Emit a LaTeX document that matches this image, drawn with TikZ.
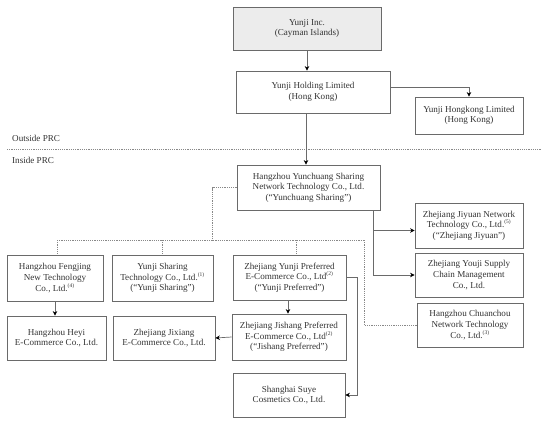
\documentclass[tikz,border=0pt]{standalone}
\usepackage{fontspec}
\setmainfont{Liberation Serif}
\usetikzlibrary{arrows.meta}
\definecolor{edge}{HTML}{6A6A6A}
\definecolor{dotc}{HTML}{888888}
\definecolor{txt}{HTML}{333333}
\begin{document}
\begin{tikzpicture}[x=1pt,y=-1pt,
  box/.style={draw=edge,line width=0.8pt,align=center,inner sep=0pt,text=txt,
    font=\fontsize{9.1}{10.6}\selectfont},
  conn/.style={draw=edge,line width=0.7pt},
  arr/.style={conn,-{Stealth[length=4.5pt,width=4.5pt,black]}},
  dot/.style={draw=dotc,line width=0.6pt,dash pattern=on 1.2pt off 1pt}]
\useasboundingbox (0,0) rectangle (549,426);
\newcommand{\supn}[1]{\textsuperscript{\fontsize{5.5}{5.5}\selectfont(#1)}}
% boxes
\node[box,fill=gray!15,minimum width=148pt,minimum height=43pt] (inc) at (307,28.5) {Yunji Inc.\\(Cayman Islands)};
\node[box,minimum width=154pt,minimum height=42pt] (holding) at (313,92) {Yunji Holding Limited\\(Hong Kong)};
\node[box,minimum width=108pt,minimum height=37pt] (hk) at (469,115.5) {Yunji Hongkong Limited\\(Hong Kong)};
\node[box,minimum width=143pt,minimum height=45pt] (yc) at (308.5,187.5) {Hangzhou Yunchuang Sharing\\Network Technology Co., Ltd.\\(“Yunchuang Sharing”)};
\node[box,minimum width=108pt,minimum height=45pt] (jiyuan) at (469,225.5) {Zhejiang Jiyuan Network\\Technology Co., Ltd.\supn{5}\\(“Zhejiang Jiyuan”)};
\node[box,minimum width=108pt,minimum height=44pt] (youji) at (469,275) {Zhejiang Youji Supply\\Chain Management\\Co., Ltd.};
\node[box,minimum width=106pt,minimum height=44pt] (chuan) at (470,325) {Hangzhou Chuanchou\\Network Technology\\Co., Ltd.\supn{3}};
\node[box,minimum width=96pt,minimum height=46pt] (feng) at (55,278) {Hangzhou Fengjing\\New Technology\\Co., Ltd.\supn{4}};
\node[box,minimum width=101pt,minimum height=46pt] (share) at (162.5,278) {Yunji Sharing\\Technology Co., Ltd.\supn{1}\\(“Yunji Sharing”)};
\node[box,minimum width=113pt,minimum height=45pt] (pref) at (289.5,277.5) {Zhejiang Yunji Preferred\\E-Commerce Co., Ltd\supn{2}\\(“Yunji Preferred”)};
\node[box,minimum width=99pt,minimum height=44pt] (heyi) at (56.5,338) {Hangzhou Heyi\\E-Commerce Co., Ltd.};
\node[box,minimum width=102pt,minimum height=44pt] (jix) at (164,338) {Zhejiang Jixiang\\E-Commerce Co., Ltd.};
\node[box,minimum width=114pt,minimum height=46pt] (jish) at (289,337) {Zhejiang Jishang Preferred\\E-Commerce Co., Ltd\supn{2}\\(“Jishang Preferred”)};
\node[box,minimum width=112pt,minimum height=44pt] (suye) at (289,395) {Shanghai Suye\\Cosmetics Co., Ltd.};
% boundary
\coordinate (bl) at (7,149);
\coordinate (br) at (541,149);
\draw[dot] (bl) -- (br);
\node[anchor=west,text=txt,font=\fontsize{9.1}{10}\selectfont,inner sep=0pt] (out) at (12,138) {Outside PRC};
\node[anchor=west,text=txt,font=\fontsize{9.1}{10}\selectfont,inner sep=0pt] (in) at (12,160) {Inside PRC};
% solid connectors
\draw[arr] (inc.south) -- (inc.south |- holding.north);
\coordinate (hke) at ([yshift=5pt]holding.east);
\draw[arr] (hke) -| (hk.north);
\coordinate (hx) at (306,0);
\draw[arr] (holding.south -| hx) -- (yc.north -| hx);
\coordinate (trunk) at (373,0);
\coordinate (jiw) at ([yshift=-5pt]jiyuan.west);
\draw[conn] (yc.south -| trunk) -- (trunk |- youji.west);
\draw[arr] (trunk |- jiw) -- (jiw);
\draw[arr] (trunk |- youji.west) -- (youji.west);
\draw[arr] (feng.south) -- (feng.south |- heyi.north);
\coordinate (px) at (288,0);
\draw[arr] (pref.south -| px) -- (jish.north -| px);
\draw[arr] (jish.west) -- (jix.east);
\coordinate (sx) at (357,0);
\draw[arr] (pref.east) -| (sx |- suye.east) -- (suye.east);
% dotted connectors
\coordinate (d1) at (212,240);
\coordinate (bus1) at (57,240);
\coordinate (bus2) at (364,240);
\draw[dot] (yc.west) -| (d1);
\draw[dot] (bus1) -- (bus2);
\draw[dot] (bus1) -- (bus1 |- feng.north);
\draw[dot] (share.north |- bus1) -- (share.north);
\coordinate (py) at (296,240);
\draw[dot] (py) -- (py |- pref.north);
\draw[dot] (bus2) |- (chuan.west);
\end{tikzpicture}
\end{document}
